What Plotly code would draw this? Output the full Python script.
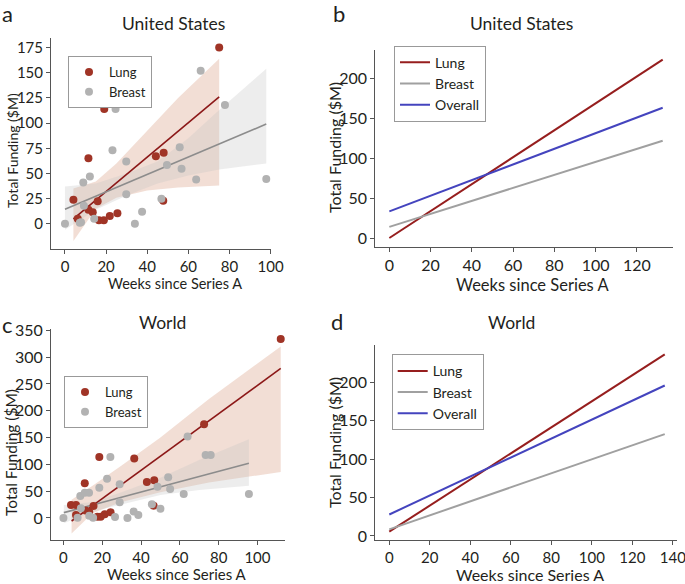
import plotly.graph_objects as go

W, H = 685, 584
FONT = 'Lato, Liberation Sans, sans-serif'
INK = '#231f20'

# ---- data ----
# a: United States scatter
us_lung_weeks = [4.1, 6.2, 11.4, 11.4, 13.5, 15.9, 16.5, 18.9, 19.1, 21.8, 25.5, 44.2, 48.0, 47.8, 75.0]
us_lung_funding = [24, 5, 65, 14, 11.5, 22.5, 3.5, 3.5, 114, 7.8, 10.5, 67, 70.5, 23, 175]
us_breast_weeks = [0, 7.2, 7.8, 8.9, 9.2, 12.1, 14.2, 23.1, 24.6, 29.8, 29.8, 34.0, 37.5, 46.9, 49.6, 55.8, 56.7, 63.8, 66.0, 77.8, 97.9]
us_breast_funding = [0, 1, 1.5, 41, 18, 47, 5, 73, 114, 62, 29.4, 0, 12, 25, 58.5, 76, 54.6, 44, 152, 118, 44.6]
us_lung_fit_x = [4.1, 75.0]
us_lung_fit_y = [5, 126]
us_breast_fit_x = [0, 97.9]
us_breast_fit_y = [14.5, 99]
us_lung_band_x = [4.1, 15, 25, 40, 55, 75]
us_lung_band_hi = [35, 42, 60, 92, 125, 164]
us_lung_band_lo = [-17, 15, 26, 33, 36, 38]
us_breast_band_x = [0, 15, 30, 45, 60, 75, 97.9]
us_breast_band_hi = [37, 40, 50, 62, 85, 113, 154]
us_breast_band_lo = [-6, 14, 28, 40, 48, 54, 60]

# c: World scatter
w_lung_weeks = [3.9, 6.5, 6.5, 11.0, 11.5, 13.3, 15.5, 17.5, 19.2, 18.5, 21.3, 24.3, 36.5, 43.0, 46.8, 46.5, 72.5, 112.0]
w_lung_funding = [24, 24, 5.6, 64.7, 14, 11.8, 22.4, 2.5, 2.5, 114, 6.9, 10.6, 111, 67, 70.5, 23, 175, 334]
w_breast_weeks = [0, 7.3, 8.7, 9.0, 11.0, 13.2, 13.3, 15.3, 18.5, 22.5, 24.2, 26.6, 29.0, 29.0, 33.0, 36.2, 38.6,
                  45.6, 48.5, 50.0, 54.0, 55.0, 62.0, 64.0, 73.3, 75.9, 95.6]
w_breast_funding = [0, 0.6, 41, 18, 47, 47, 4.3, 0.6, 56.6, 73, 114, 1.9, 63, 29.5, 0, 12, 5.6,
                    25.6, 58.4, 17.4, 76, 54, 44.8, 152, 117.5, 117.5, 44.8]
w_lung_fit_x = [4.2, 112.0]
w_lung_fit_y = [-5.6, 279]
w_breast_fit_x = [0.2, 95.6]
w_breast_fit_y = [10, 102]
w_lung_band_x = [4.2, 15, 30, 50, 75, 112]
w_lung_band_hi = [34, 60, 98, 150, 222, 320]
w_lung_band_lo = [-29, 9, 30, 48, 66, 86]
w_breast_band_x = [0.2, 15, 30, 50, 70, 95.6]
w_breast_band_hi = [24, 30, 48, 75, 108, 147]
w_breast_band_lo = [-10, 12, 26, 43, 52, 60]

# b / d: fitted lines
us_fit_weeks = [0, 132.5]
us_fit_lung = [0, 224]
us_fit_breast = [14, 122]
us_fit_overall = [33.5, 163.5]
w_fit_weeks = [0, 136]
w_fit_lung = [5.6, 236.7]
w_fit_breast = [8.6, 132.7]
w_fit_overall = [28, 196]

# tick values
a_yticks = [0, 25, 50, 75, 100, 125, 150, 175]
c_yticks = [0, 50, 100, 150, 200, 250, 300, 350]
bd_yticks = [0, 50, 100, 150, 200]

LUNG_DOT = 'rgb(160,52,38)'
LUNG_LINE = 'rgb(140,24,24)'
LUNG_BAND = 'rgba(210,135,105,0.28)'
BREAST_DOT = 'rgb(178,178,178)'
BREAST_LINE = 'rgb(140,140,140)'
BREAST_BAND = 'rgba(195,195,195,0.30)'
FIT_LUNG = 'rgb(150,30,30)'
FIT_BREAST = 'rgb(160,160,160)'
FIT_OVERALL = 'rgb(68,68,190)'


def px(x):
    return x / W


def py(y):
    return 1 - y / H


fig = go.Figure()


def band(x, lo, hi, color, xa, ya):
    fig.add_trace(go.Scatter(x=x + x[::-1], y=hi + lo[::-1], fill='toself', fillcolor=color,
                             line=dict(width=0), mode='lines', hoverinfo='skip', showlegend=False,
                             xaxis=xa, yaxis=ya))


def scatter_panel(xa, ya, leg, lw, lf, bw, bf, lfx, lfy, bfx, bfy, lbx, lblo, lbhi, bbx, bblo, bbhi):
    band(lbx, lblo, lbhi, LUNG_BAND, xa, ya)
    band(bbx, bblo, bbhi, BREAST_BAND, xa, ya)
    fig.add_trace(go.Scatter(x=lfx, y=lfy, mode='lines', line=dict(color=LUNG_LINE, width=1.6),
                             showlegend=False, xaxis=xa, yaxis=ya))
    fig.add_trace(go.Scatter(x=bfx, y=bfy, mode='lines', line=dict(color=BREAST_LINE, width=1.6),
                             showlegend=False, xaxis=xa, yaxis=ya))
    fig.add_trace(go.Scatter(x=lw, y=lf, mode='markers', name='Lung', legend=leg,
                             marker=dict(color=LUNG_DOT, size=8, line=dict(width=0)), xaxis=xa, yaxis=ya))
    fig.add_trace(go.Scatter(x=bw, y=bf, mode='markers', name='Breast', legend=leg,
                             marker=dict(color=BREAST_DOT, size=8, line=dict(width=0)), xaxis=xa, yaxis=ya))


def fit_panel(xa, ya, leg, wk, lung, breast, overall):
    for name, vals, col in [('Lung', lung, FIT_LUNG), ('Breast', breast, FIT_BREAST), ('Overall', overall, FIT_OVERALL)]:
        fig.add_trace(go.Scatter(x=wk, y=vals, mode='lines', name=name, legend=leg,
                                 line=dict(color=col, width=2), xaxis=xa, yaxis=ya))


scatter_panel('x', 'y', 'legend', us_lung_weeks, us_lung_funding, us_breast_weeks, us_breast_funding,
              us_lung_fit_x, us_lung_fit_y, us_breast_fit_x, us_breast_fit_y,
              us_lung_band_x, us_lung_band_lo, us_lung_band_hi,
              us_breast_band_x, us_breast_band_lo, us_breast_band_hi)
fit_panel('x2', 'y2', 'legend2', us_fit_weeks, us_fit_lung, us_fit_breast, us_fit_overall)
scatter_panel('x3', 'y3', 'legend3', w_lung_weeks, w_lung_funding, w_breast_weeks, w_breast_funding,
              w_lung_fit_x, w_lung_fit_y, w_breast_fit_x, w_breast_fit_y,
              w_lung_band_x, w_lung_band_lo, w_lung_band_hi,
              w_breast_band_x, w_breast_band_lo, w_breast_band_hi)
fit_panel('x4', 'y4', 'legend4', w_fit_weeks, w_fit_lung, w_fit_breast, w_fit_overall)


def ax(dom, rng, anchor, size, vertical=False, dtick=None, tickvals=None):
    d = [px(dom[0]), px(dom[1])] if not vertical else [py(dom[1]), py(dom[0])]
    a = dict(domain=d, range=rng, anchor=anchor, showgrid=False, zeroline=False,
             showline=True, linecolor='#555', linewidth=1, ticks='outside', ticklen=4, tickcolor='#555',
             tickfont=dict(size=size, color=INK, family=FONT), fixedrange=True, automargin=False,
             ticklabeloverflow='allow')
    if tickvals is not None:
        a.update(tickmode='array', tickvals=tickvals)
    else:
        a.update(dtick=dtick, tick0=0)
    return a


legend_style = dict(bordercolor='#999', borderwidth=1, bgcolor='white', xanchor='left', yanchor='top',
                    tracegroupgap=0, itemwidth=30)

fig.update_layout(
    width=W, height=H, margin=dict(l=0, r=0, t=0, b=0, pad=0, autoexpand=False),
    paper_bgcolor='white', plot_bgcolor='white',
    font=dict(family=FONT, color=INK),
    xaxis=ax([51, 271], [-6.8, 100.2], 'y', 15, dtick=20),
    yaxis=ax([38, 249], [-25, 184.5], 'x', 15, vertical=True, tickvals=a_yticks),
    xaxis2=ax([375.3, 673], [-6.8, 137.5], 'y2', 16, dtick=20),
    yaxis2=ax([50, 246.7], [-10.9, 236], 'x2', 16, vertical=True, tickvals=bd_yticks),
    xaxis3=ax([51, 285], [-6.4, 114.2], 'y3', 15, dtick=20),
    yaxis3=ax([329.3, 539.8], [-40.7, 352], 'x3', 16, vertical=True, tickvals=c_yticks),
    xaxis4=ax([375.3, 676.7], [-6.9, 141.9], 'y4', 15, dtick=20),
    yaxis4=ax([345, 539.8], [-5, 248.8], 'x4', 16, vertical=True, tickvals=bd_yticks),
    legend=dict(x=px(68), y=py(56), font=dict(size=13), **legend_style),
    legend2=dict(x=px(394), y=py(45.7), font=dict(size=14), **legend_style),
    legend3=dict(x=px(64), y=py(376), font=dict(size=13), **legend_style),
    legend4=dict(x=px(391.7), y=py(354.3), font=dict(size=14), **legend_style),
)

texts = [
    ('a', 7, 14, 22, 0), ('b', 339, 14, 22, 0), ('c', 7, 325, 22, 0), ('d', 337, 321, 22, 0),
    ('United States', 173, 24, 17.5, 0), ('United States', 521.7, 24, 17.5, 0),
    ('World', 162, 322, 17.5, 0), ('World', 511.7, 322, 17.5, 0),
    ('Weeks since Series A', 175, 284, 14.5, 0), ('Weeks since Series A', 532, 285, 16.5, 0),
    ('Weeks since Series A', 177, 574, 15, 0), ('Weeks since Series A', 530, 574, 16, 0),
    ('Total Funding ($M)', 12, 151, 14, -90), ('Total Funding ($M)', 334, 148, 16, -90),
    ('Total Funding ($M)', 11, 453, 15.5, -90), ('Total Funding ($M)', 334, 443, 16, -90),
]
for t, x, y, s, ang in texts:
    fig.add_annotation(text=t, x=px(x), y=py(y), xref='paper', yref='paper', showarrow=False,
                       xanchor='center', yanchor='middle', textangle=ang, font=dict(size=s, color=INK, family=FONT))

# the page's default body margin would shift the figure inside the 685x584 window
fig.write_html('out.html', config={'displayModeBar': False},
               post_script="document.body.style.margin='0';document.body.style.overflow='hidden';")
